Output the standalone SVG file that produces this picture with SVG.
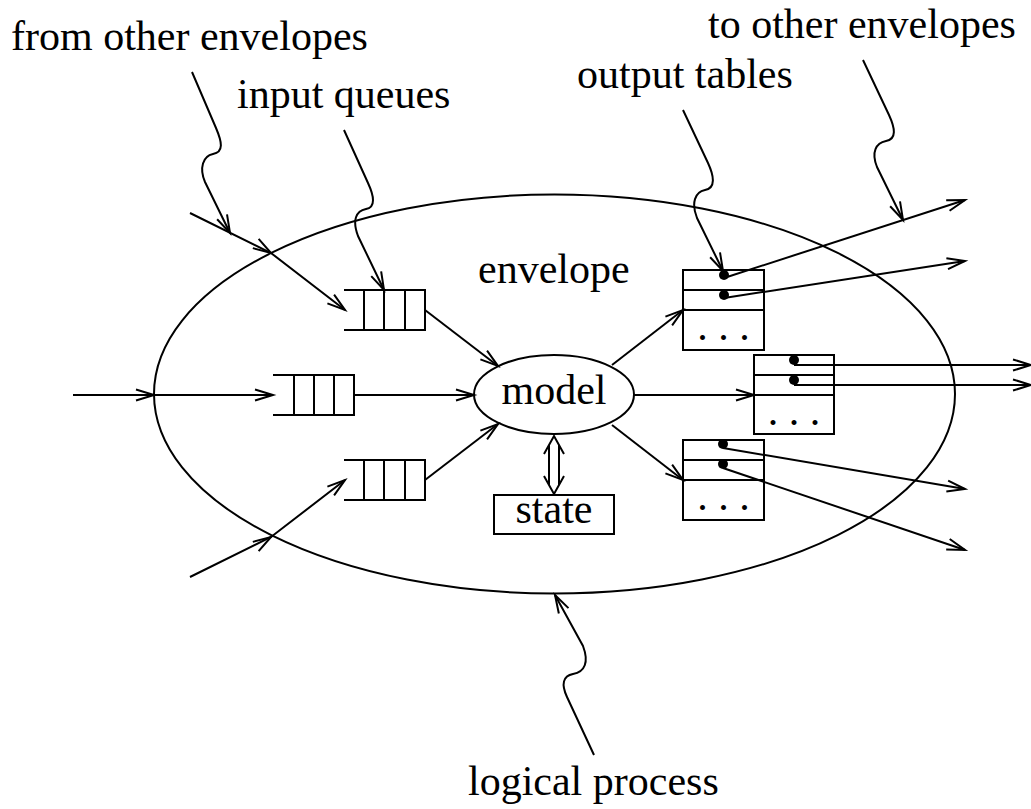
<svg xmlns="http://www.w3.org/2000/svg" width="1031" height="809" viewBox="0 0 1031 809">
  <style>
    .ln { fill: none; stroke: #000; stroke-width: 2; stroke-linejoin: miter; }
    .arr { fill: none; stroke: #000; stroke-width: 2; marker-end: url(#ah); }
    .midarr { fill: none; stroke: #000; stroke-width: 2; marker-mid: url(#ah); marker-end: url(#ah); }
    .txt { font-family: "Liberation Serif", "Times New Roman", serif; font-size: 42px; fill: #000; }
    .mid { text-anchor: middle; }
    .dot { fill: #000; }
  </style>
  <defs>
    <!-- open V arrowhead, tip at the path end -->
    <marker id="ah" markerUnits="userSpaceOnUse" markerWidth="40" markerHeight="40" refX="0" refY="0" orient="auto" overflow="visible">
      <path d="M-18,-5.5 L0,0 L-18,5.5" fill="none" stroke="#000" stroke-width="2"/>
    </marker>
  </defs>
  <rect width="1031" height="809" fill="#fff"/>

  <!-- logical process boundary -->
  <g id="envelope">
    <ellipse class="ln" cx="554.5" cy="394" rx="400.5" ry="199.5"/>
    <text class="txt" x="478" y="283">envelope</text>
  </g>

  <g id="queue-top">
    <path class="ln" d="M344,290 H425 V330 H344 M364,290 V330 M384,290 V330 M405,290 V330"/>
  </g>
  <g id="queue-middle">
    <path class="ln" d="M273,375 H354 V415 H273 M294,375 V415 M314,375 V415 M334,375 V415"/>
  </g>
  <g id="queue-bottom">
    <path class="ln" d="M344,460 H425 V500 H344 M364,460 V500 M384,460 V500 M405,460 V500"/>
  </g>

  <g id="model">
    <ellipse class="ln" cx="554" cy="394.5" rx="80" ry="39.5"/>
    <text class="txt mid" x="554" y="404">model</text>
  </g>

  <g id="state">
    <rect class="ln" x="494" y="495" width="120" height="39"/>
    <text class="txt mid" x="554" y="523">state</text>
  </g>

  <g id="table-top">
    <path class="ln" d="M683,270 H764 V350 H683 Z M683,290 H764 M683,310 H764"/>
    <circle class="dot" cx="724" cy="275" r="5"/>
    <circle class="dot" cx="724" cy="295" r="5"/>
    <text class="txt mid" x="723.5" y="340">. . .</text>
  </g>
  <g id="table-middle">
    <path class="ln" d="M754,355 H834 V434 H754 Z M754,375 H834 M754,395 H834"/>
    <circle class="dot" cx="794" cy="360" r="5"/>
    <circle class="dot" cx="794" cy="380" r="5"/>
    <text class="txt mid" x="794" y="425">. . .</text>
  </g>
  <g id="table-bottom">
    <path class="ln" d="M683,440 H764 V520 H683 Z M683,460 H764 M683,480 H764"/>
    <circle class="dot" cx="723" cy="444" r="5"/>
    <circle class="dot" cx="723" cy="464" r="5"/>
    <text class="txt mid" x="723.5" y="510">. . .</text>
  </g>

  <g id="labels">
    <text class="txt" x="11" y="50">from other envelopes</text>
    <text class="txt" x="237" y="108">input queues</text>
    <text class="txt" x="577" y="88">output tables</text>
    <text class="txt" x="708" y="38">to other envelopes</text>
    <text class="txt" x="468" y="795">logical process</text>
  </g>

  <g id="connectors">
    <!-- incoming messages, arrowhead where they cross the boundary -->
    <polyline class="midarr" points="190,213 271,253 345,310"/>
    <polyline class="midarr" points="73,395 154,395 273,395"/>
    <polyline class="midarr" points="190,577 271,537 345,480"/>

    <!-- queues to model -->
    <line class="arr" x1="425" y1="310" x2="498" y2="366"/>
    <line class="arr" x1="354" y1="395" x2="474" y2="395"/>
    <line class="arr" x1="425" y1="480" x2="498" y2="424"/>

    <!-- model to output tables -->
    <line class="arr" x1="612" y1="365" x2="683" y2="310"/>
    <line class="arr" x1="634" y1="395" x2="754" y2="395"/>
    <line class="arr" x1="612" y1="425" x2="683" y2="480"/>

    <!-- outgoing messages -->
    <line class="arr" x1="724" y1="278" x2="965" y2="200"/>
    <line class="arr" x1="724" y1="298" x2="965" y2="261"/>
    <line class="arr" x1="794" y1="365" x2="1031" y2="365"/>
    <line class="arr" x1="794" y1="385" x2="1031" y2="385"/>
    <line class="arr" x1="723" y1="448" x2="965" y2="489"/>
    <line class="arr" x1="723" y1="468" x2="965" y2="550"/>

    <!-- model/state double arrow -->
    <path class="ln" d="M544,454 L554,436 L564,454 M544,476 L554,494 L564,476 M549,445 V485 M559,445 V485"/>

    <!-- wavy label pointers -->
    <path class="arr" d="M192,72 L216,128 C222,142 224,152 213,154 C203,156 199,168 205,182 L230,233"/>
    <path class="arr" d="M344,130 L368,183 C374,196 376,207 366,209 C356,211 352,220 358,236 L384,290"/>
    <path class="arr" d="M683,110 L708,163 C714,176 716,188 705,190 C695,192 691,203 697,218 L723,271"/>
    <path class="arr" d="M863,60 L889,115 C895,128 897,139 886,141 C876,143 871,152 877,167 L903,220"/>
    <path class="arr" d="M594,755 L567,697 C561,684 563,676 573,674 C585,672 589,662 583,646 L555,595"/>
  </g>
</svg>
